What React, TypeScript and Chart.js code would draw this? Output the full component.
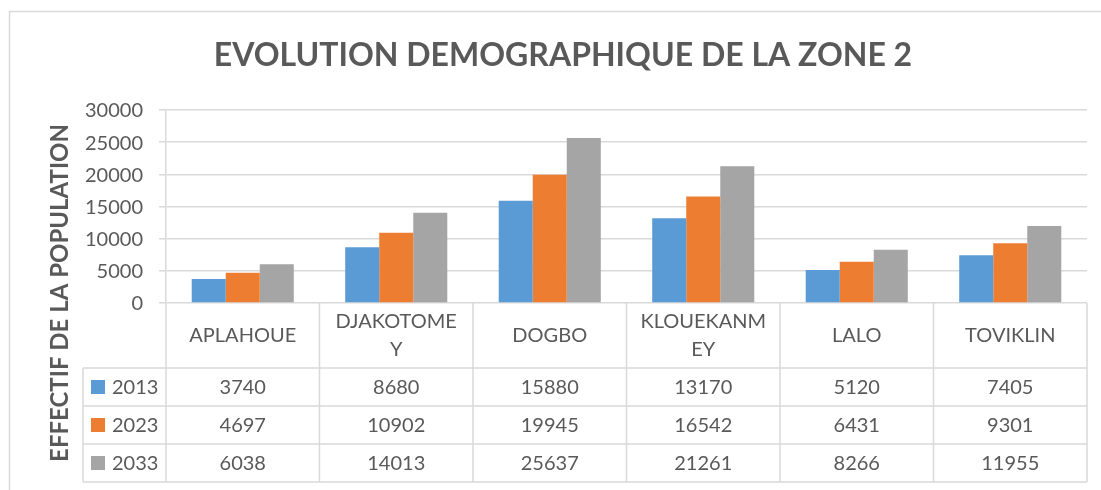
import React, { useEffect, useRef } from "react";
import { Chart, registerables } from "chart.js";

Chart.register(...registerables);

const categories = ["APLAHOUE", "DJAKOTOMEY", "DOGBO", "KLOUEKANMEY", "LALO", "TOVIKLIN"];
const seriesNames = ["2013", "2023", "2033"];
const values2013 = [3740, 8680, 15880, 13170, 5120, 7405];
const values2023 = [4697, 10902, 19945, 16542, 6431, 9301];
const values2033 = [6038, 14013, 25637, 21261, 8266, 11955];
const yTickValues = [0, 5000, 10000, 15000, 20000, 25000, 30000];
const chartTitle = "EVOLUTION DEMOGRAPHIQUE DE LA ZONE 2";
const yAxisTitle = "EFFECTIF DE LA POPULATION";

const COLORS = ["#5B9BD5", "#ED7D31", "#A5A5A5"];
const FONT = "Lato, 'Open Sans', sans-serif";
const TEXT = "#595959";
const GRID = "#D9D9D9";

function wrapLabel(s: string): string[] {
  const lines: string[] = [];
  for (let i = 0; i < s.length; i += 9) lines.push(s.slice(i, i + 9));
  return lines;
}

const tablePlugin = {
  id: "tablePlugin",
  afterDraw(chart: any) {
    const ctx = chart.ctx;
    const area = chart.chartArea;
    const xs = chart.scales.x;
    const ys = chart.scales.y;
    const n = categories.length;
    const colW = (area.right - area.left) / n;
    const top = area.bottom;
    const headerBottom = top + 65;
    const rowH = 38;
    const tableBottom = headerBottom + rowH * seriesNames.length;
    const legendLeft = 83;

    ctx.save();
    // outer chart border
    ctx.strokeStyle = GRID;
    ctx.lineWidth = 1.5;
    ctx.beginPath();
    ctx.moveTo(9.5, chart.height);
    ctx.lineTo(9.5, 11.5);
    ctx.lineTo(chart.width, 11.5);
    ctx.stroke();

    // title
    ctx.fillStyle = TEXT;
    ctx.font = `bold 32px ${FONT}`;
    ctx.textAlign = "center";
    ctx.textBaseline = "middle";
    ctx.fillText(chartTitle, 563, 56);

    // y axis title
    ctx.save();
    ctx.translate(60, 293);
    ctx.rotate(-Math.PI / 2);
    ctx.font = `bold 24px ${FONT}`;
    ctx.fillText(yAxisTitle, 0, 0);
    ctx.restore();

    // y tick labels
    ctx.font = `20px ${FONT}`;
    ctx.textAlign = "right";
    yTickValues.forEach((v) => {
      ctx.fillText(String(v), area.left - 23, ys.getPixelForValue(v) + 1);
    });

    // table lines
    ctx.strokeStyle = GRID;
    ctx.lineWidth = 1.5;
    ctx.beginPath();
    for (let r = 0; r <= seriesNames.length; r++) {
      const y = headerBottom + r * rowH;
      ctx.moveTo(legendLeft, y);
      ctx.lineTo(area.right, y);
    }
    for (let i = 0; i <= n; i++) {
      const x = area.left + i * colW;
      ctx.moveTo(x, top);
      ctx.lineTo(x, tableBottom);
    }
    ctx.moveTo(legendLeft, headerBottom);
    ctx.lineTo(legendLeft, tableBottom);
    ctx.stroke();

    // header labels
    ctx.fillStyle = TEXT;
    ctx.font = `20px ${FONT}`;
    ctx.textAlign = "center";
    ctx.textBaseline = "middle";
    categories.forEach((c, i) => {
      const cx = xs.getPixelForValue(i);
      const lines = wrapLabel(c);
      const lh = 28;
      const midY = (top + headerBottom) / 2;
      lines.forEach((ln, k) => {
        const y = midY + (k - (lines.length - 1) / 2) * lh;
        ctx.fillText(ln, cx, y);
      });
    });

    // rows
    const datasets = chart.data.datasets;
    datasets.forEach((ds: any, r: number) => {
      const cy = headerBottom + r * rowH + rowH / 2;
      ctx.fillStyle = ds.backgroundColor;
      ctx.fillRect(91, cy - 7, 14, 14);
      ctx.fillStyle = TEXT;
      ctx.textAlign = "left";
      ctx.fillText(ds.label, 112, cy + 1);
      ctx.textAlign = "center";
      ds.data.forEach((v: number, i: number) => {
        ctx.fillText(String(v), xs.getPixelForValue(i), cy + 1);
      });
    });
    ctx.restore();
  },
};

export default function App() {
  const ref = useRef<HTMLCanvasElement | null>(null);
  useEffect(() => {
    if (!ref.current) return;
    const series = [values2013, values2023, values2033];
    const chart = new Chart(ref.current, {
      type: "bar",
      data: {
        labels: categories,
        datasets: series.map((d, i) => ({
          label: seriesNames[i],
          data: d,
          backgroundColor: COLORS[i],
          borderWidth: 0,
          categoryPercentage: 0.665,
          barPercentage: 1,
        })),
      },
      options: {
        responsive: false,
        animation: false,
        devicePixelRatio: 1,
        layout: { padding: { left: 166, top: 110, right: 14, bottom: 187 } },
        plugins: {
          legend: { display: false },
          title: { display: false },
          tooltip: { enabled: false },
        },
        scales: {
          x: { display: false },
          y: {
            min: yTickValues[0],
            max: yTickValues[yTickValues.length - 1],
            ticks: {
              stepSize: yTickValues[1] - yTickValues[0],
              display: false,
            },
            grid: { color: GRID, lineWidth: 1.5, tickLength: 7 },
            border: { display: true, color: GRID, width: 1.5 },
            afterFit: (s: any) => {
              s.width = 0;
            },
          },
        },
      },
      plugins: [tablePlugin],
    });
    return () => chart.destroy();
  }, []);
  return (
    <div style={{ position: "absolute", left: 0, top: 0, width: 1101, height: 490, background: "#fff" }}>
      <canvas ref={ref} width={1101} height={490} style={{ display: "block" }} />
    </div>
  );
}
